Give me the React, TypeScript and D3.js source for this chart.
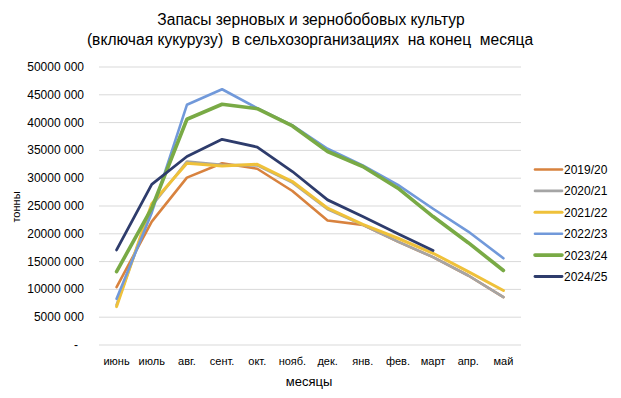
import React from 'react';
import * as d3 from 'd3';

const months = ['июнь', 'июль', 'авг.', 'сент.', 'окт.', 'нояб.', 'дек.', 'янв.', 'фев.', 'март', 'апр.', 'май'];
const seriesNames = ['2019/20', '2020/21', '2021/22', '2022/23', '2023/24', '2024/25'];
const colors = ['#d8823e', '#a5a5a5', '#efc13a', '#7199da', '#79aa45', '#2e3c6c'];
const widths = [2.6, 2.6, 3, 2.6, 3.6, 2.8];

// values in millions of tonnes
const v2019 = [10.4, 22.2, 30.1, 32.7, 31.7, 27.7, 22.4, 21.6, 18.6, 15.8, 12.5, 8.6];
const v2020 = [7.2, 25.0, 33.0, 32.4, 32.3, 29.2, 24.4, 21.6, 18.6, 15.8, 12.5, 8.6];
const v2021 = [6.9, 25.4, 32.7, 32.2, 32.5, 29.4, 24.6, 21.7, 19.2, 16.5, 13.2, 9.8];
const v2022 = [8.3, 23.8, 43.2, 46.0, 42.6, 39.5, 35.3, 32.3, 28.8, 24.5, 20.4, 15.6];
const v2023 = [13.2, 24.6, 40.6, 43.3, 42.5, 39.4, 34.8, 32.1, 28.2, 23.1, 18.4, 13.4];
const v2024 = [17.1, 28.9, 33.9, 37.0, 35.6, 31.2, 26.1, 23.1, 20.0, 17.0];
const allSeries = [v2019, v2020, v2021, v2022, v2023, v2024];

const yTicks = [0, 5, 10, 15, 20, 25, 30, 35, 40, 45, 50];

const W = 621;
const H = 398;
const plot = { left: 99, right: 521, top: 67, bottom: 345 };

const fmt = (m: number) => (m === 0 ? '-' : `${m * 1000} 000`);

export default function App() {
  const x = d3.scaleBand<string>().domain(months).range([plot.left, plot.right]);
  const y = d3.scaleLinear().domain([0, 50]).range([plot.bottom, plot.top]);
  const line = d3
    .line<number>()
    .x((_, i) => (x(months[i]) as number) + x.bandwidth() / 2)
    .y((d) => y(d));

  const font = '"Liberation Sans", Arial, sans-serif';

  return (
    <svg width={W} height={H} style={{ position: 'absolute', left: 0, top: 0, fontFamily: font }}>
      <rect width={W} height={H} fill="#fff" />
      <text x={311} y={25} textAnchor="middle" fontSize={15.6} fill="#000">
        Запасы зерновых и зернобобовых культур
      </text>
      <text x={310} y={45} textAnchor="middle" fontSize={15.6} fill="#000" style={{ whiteSpace: 'pre' }}>
        (включая кукурузу)  в сельхозорганизациях  на конец  месяца
      </text>

      {yTicks.map((t) => (
        <g key={t}>
          <line x1={plot.left} x2={plot.right} y1={y(t)} y2={y(t)} stroke="#d9d9d9" strokeWidth={1} />
          <text x={t === 0 ? 78 : 84} y={y(t) + 4} textAnchor="end" fontSize={12} fill="#000">
            {fmt(t)}
          </text>
        </g>
      ))}

      {months.map((m) => (
        <text key={m} x={(x(m) as number) + x.bandwidth() / 2} y={365} textAnchor="middle" fontSize={11} fill="#000">
          {m}
        </text>
      ))}

      <text x={309} y={386} textAnchor="middle" fontSize={13} fill="#000">
        месяцы
      </text>
      <text transform={`translate(20,207) rotate(-90)`} textAnchor="middle" fontSize={11} fill="#000">
        тонны
      </text>

      {allSeries.map((s, i) => (
        <path
          key={seriesNames[i]}
          d={line(s) as string}
          fill="none"
          stroke={colors[i]}
          strokeWidth={widths[i]}
          strokeLinejoin="round"
          strokeLinecap="round"
        />
      ))}

      {seriesNames.map((n, i) => (
        <g key={n} transform={`translate(535,${169.5 + i * 21.4})`}>
          <line x1={0} x2={27} y1={0} y2={0} stroke={colors[i]} strokeWidth={widths[i]} strokeLinecap="round" />
          <text x={29} y={4.5} fontSize={12} fill="#000">
            {n}
          </text>
        </g>
      ))}
    </svg>
  );
}
